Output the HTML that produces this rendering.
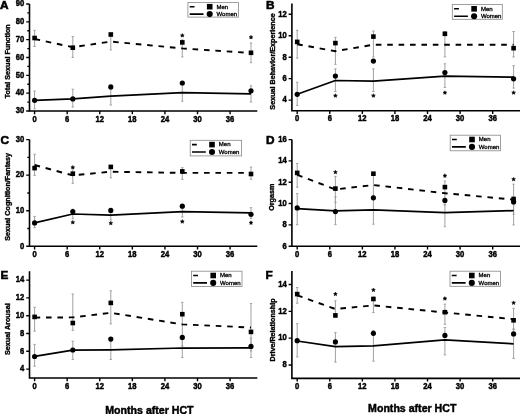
<!DOCTYPE html>
<html><head><meta charset="utf-8"><style>
html,body{margin:0;padding:0;background:#fff;}
body{width:520px;height:414px;overflow:hidden;}
svg{display:block;filter:blur(0.3px);}
text{font-family:"Liberation Sans", sans-serif;fill:#000;}
.t{font-size:8.5px;font-weight:bold;stroke:#000;stroke-width:0.45px;}
.yl{font-size:7.2px;font-weight:bold;stroke:#000;stroke-width:0.35px;}
.L{font-size:11.8px;font-weight:bold;stroke:#000;stroke-width:0.6px;}
.lg{font-size:6.0px;stroke:#000;stroke-width:0.3px;}
.ast{font-size:9px;font-weight:bold;}
.xt{font-size:10.6px;font-weight:bold;stroke:#000;stroke-width:0.45px;}
</style></head><body>
<svg width="520" height="414" viewBox="0 0 520 414">
<rect width="520" height="414" fill="#fff"/>
<path d="M29.5 4V111H257.3" fill="none" stroke="#000" stroke-width="1.6"/>
<path d="M26.2 111H29.5M26.2 93.17H29.5M26.2 75.33H29.5M26.2 57.5H29.5M26.2 39.67H29.5M26.2 21.83H29.5M26.2 4H29.5M27.3 102.08H29.5M27.3 84.25H29.5M27.3 66.42H29.5M27.3 48.58H29.5M27.3 30.75H29.5M27.3 12.92H29.5M34.6 111V114.2M67.18 111V114.2M99.76 111V114.2M132.34 111V114.2M164.92 111V114.2M197.5 111V114.2M230.08 111V114.2" fill="none" stroke="#000" stroke-width="1.4"/>
<text transform="translate(24.3 113.3) scale(0.9 1)" class="t" text-anchor="end">30</text>
<text transform="translate(24.3 95.47) scale(0.9 1)" class="t" text-anchor="end">40</text>
<text transform="translate(24.3 77.63) scale(0.9 1)" class="t" text-anchor="end">50</text>
<text transform="translate(24.3 59.8) scale(0.9 1)" class="t" text-anchor="end">60</text>
<text transform="translate(24.3 41.97) scale(0.9 1)" class="t" text-anchor="end">70</text>
<text transform="translate(24.3 24.13) scale(0.9 1)" class="t" text-anchor="end">80</text>
<text transform="translate(24.3 6.3) scale(0.9 1)" class="t" text-anchor="end">90</text>
<text transform="translate(34.6 121.5) scale(0.9 1)" class="t" text-anchor="middle">0</text>
<text transform="translate(67.18 121.5) scale(0.9 1)" class="t" text-anchor="middle">6</text>
<text transform="translate(99.76 121.5) scale(0.9 1)" class="t" text-anchor="middle">12</text>
<text transform="translate(132.34 121.5) scale(0.9 1)" class="t" text-anchor="middle">18</text>
<text transform="translate(164.92 121.5) scale(0.9 1)" class="t" text-anchor="middle">24</text>
<text transform="translate(197.5 121.5) scale(0.9 1)" class="t" text-anchor="middle">30</text>
<text transform="translate(230.08 121.5) scale(0.9 1)" class="t" text-anchor="middle">36</text>
<text class="yl" text-anchor="middle" transform="translate(9.9 61.3) rotate(-90)">Total Sexual Function</text>
<text x="0" y="8.7" class="L">A</text>
<path d="M34.6 30.4V46.5M33.4 30.4H35.8M33.4 46.5H35.8M72.8 36.6V57.4M71.6 36.6H74M71.6 57.4H74M110.8 35V49.9M109.6 35H112M109.6 49.9H112M182.3 39.9V56.9M181.1 39.9H183.5M181.1 56.9H183.5M251 43V62.7M249.8 43H252.2M249.8 62.7H252.2M34.6 91V108.8M33.4 91H35.8M33.4 108.8H35.8M72.8 89.2V107M71.6 89.2H74M71.6 107H74M110.8 89V105M109.6 89H112M109.6 105H112M182.3 84.2V101.2M181.1 84.2H183.5M181.1 101.2H183.5M251 85.8V102M249.8 85.8H252.2M249.8 102H252.2" fill="none" stroke="#a2a2a2" stroke-width="1"/>
<polyline points="34.6,39 72.8,47.2 110.8,41.6 182.3,48.4 251,53" fill="none" stroke="#000" stroke-width="1.9" stroke-dasharray="5.6 5.8"/>
<polyline points="34.6,100.3 72.8,98.9 110.8,96.2 182.3,92.7 251,93.8" fill="none" stroke="#000" stroke-width="1.75" stroke-linejoin="round"/>
<rect x="32.3" y="35.7" width="4.6" height="4.6" fill="#000"/>
<rect x="70.5" y="45.4" width="4.6" height="4.6" fill="#000"/>
<rect x="108.5" y="32.2" width="4.6" height="4.6" fill="#000"/>
<rect x="180" y="40.1" width="4.6" height="4.6" fill="#000"/>
<rect x="248.7" y="50.5" width="4.6" height="4.6" fill="#000"/>
<circle cx="34.6" cy="100.3" r="2.6" fill="#000"/>
<circle cx="72.8" cy="98.9" r="2.6" fill="#000"/>
<circle cx="110.8" cy="86.9" r="2.6" fill="#000"/>
<circle cx="182.3" cy="83" r="2.6" fill="#000"/>
<circle cx="251" cy="90.8" r="2.6" fill="#000"/>
<polygon points="182.30,33.50 182.86,34.73 184.20,34.88 183.20,35.79 183.48,37.12 182.30,36.45 181.12,37.12 181.40,35.79 180.40,34.88 181.74,34.73" fill="#000" stroke="#000" stroke-width="0.5" stroke-linejoin="round"/>
<polygon points="251.00,35.30 251.56,36.53 252.90,36.68 251.90,37.59 252.18,38.92 251.00,38.25 249.82,38.92 250.10,37.59 249.10,36.68 250.44,36.53" fill="#000" stroke="#000" stroke-width="0.5" stroke-linejoin="round"/>
<rect x="187.9" y="2.4" width="50.6" height="14.7" fill="#fff" stroke="#888" stroke-width="0.8"/>
<path d="M189.7 6.7H194.5M189.7 14.1H203.5" stroke="#000" stroke-width="1.6"/>
<rect x="206.9" y="3.9" width="5.6" height="5.6" fill="#000"/>
<circle cx="209.7" cy="14.1" r="3.05" fill="#000"/>
<text x="216.5" y="8.5" class="lg">Men</text>
<text x="216.5" y="15.8" class="lg">Women</text>
<path d="M291.9 3.6V110.8H520" fill="none" stroke="#000" stroke-width="1.6"/>
<path d="M288.6 100.08H291.9M288.6 78.64H291.9M288.6 57.2H291.9M288.6 35.76H291.9M288.6 14.32H291.9M297.2 110.8V114M329.78 110.8V114M362.36 110.8V114M394.94 110.8V114M427.52 110.8V114M460.1 110.8V114M492.68 110.8V114" fill="none" stroke="#000" stroke-width="1.4"/>
<text transform="translate(286.7 102.38) scale(0.9 1)" class="t" text-anchor="end">4</text>
<text transform="translate(286.7 80.94) scale(0.9 1)" class="t" text-anchor="end">6</text>
<text transform="translate(286.7 59.5) scale(0.9 1)" class="t" text-anchor="end">8</text>
<text transform="translate(286.7 38.06) scale(0.9 1)" class="t" text-anchor="end">10</text>
<text transform="translate(286.7 16.62) scale(0.9 1)" class="t" text-anchor="end">12</text>
<text transform="translate(297.2 121.3) scale(0.9 1)" class="t" text-anchor="middle">0</text>
<text transform="translate(329.78 121.3) scale(0.9 1)" class="t" text-anchor="middle">6</text>
<text transform="translate(362.36 121.3) scale(0.9 1)" class="t" text-anchor="middle">12</text>
<text transform="translate(394.94 121.3) scale(0.9 1)" class="t" text-anchor="middle">18</text>
<text transform="translate(427.52 121.3) scale(0.9 1)" class="t" text-anchor="middle">24</text>
<text transform="translate(460.1 121.3) scale(0.9 1)" class="t" text-anchor="middle">30</text>
<text transform="translate(492.68 121.3) scale(0.9 1)" class="t" text-anchor="middle">36</text>
<text class="yl" text-anchor="middle" transform="translate(274.6 61.5) rotate(-90)">Sexual Behavior/Experience</text>
<text x="266" y="8.6" class="L">B</text>
<path d="M297.2 30.4V58.1M296 30.4H298.4M296 58.1H298.4M335.4 37.3V64.3M334.2 37.3H336.6M334.2 64.3H336.6M373.4 31V57M372.2 31H374.6M372.2 57H374.6M444.9 31.5V56.9M443.7 31.5H446.1M443.7 56.9H446.1M513.6 31.5V57M512.4 31.5H514.8M512.4 57H514.8M297.2 82.3V105.4M296 82.3H298.4M296 105.4H298.4M335.4 68.9V91.5M334.2 68.9H336.6M334.2 91.5H336.6M373.4 68.9V91.5M372.2 68.9H374.6M372.2 91.5H374.6M444.9 63.8V87.4M443.7 63.8H446.1M443.7 87.4H446.1M513.6 65.7V88.1M512.4 65.7H514.8M512.4 88.1H514.8" fill="none" stroke="#a2a2a2" stroke-width="1"/>
<polyline points="297.2,44.2 335.4,51.2 373.4,44.7 444.9,44.7 513.6,44.7" fill="none" stroke="#000" stroke-width="1.9" stroke-dasharray="5.6 5.8"/>
<polyline points="297.2,94.3 335.4,80.5 373.4,81.2 444.9,76.1 513.6,77.2" fill="none" stroke="#000" stroke-width="1.75" stroke-linejoin="round"/>
<rect x="294.9" y="39.6" width="4.6" height="4.6" fill="#000"/>
<rect x="333.1" y="40.8" width="4.6" height="4.6" fill="#000"/>
<rect x="371.1" y="34.3" width="4.6" height="4.6" fill="#000"/>
<rect x="442.6" y="31.5" width="4.6" height="4.6" fill="#000"/>
<rect x="511.3" y="45.9" width="4.6" height="4.6" fill="#000"/>
<circle cx="297.2" cy="94.3" r="2.6" fill="#000"/>
<circle cx="335.4" cy="76.1" r="2.6" fill="#000"/>
<circle cx="373.4" cy="61.1" r="2.6" fill="#000"/>
<circle cx="444.9" cy="72.6" r="2.6" fill="#000"/>
<circle cx="513.6" cy="78.8" r="2.6" fill="#000"/>
<polygon points="335.40,93.70 335.96,94.93 337.30,95.08 336.30,95.99 336.58,97.32 335.40,96.65 334.22,97.32 334.50,95.99 333.50,95.08 334.84,94.93" fill="#000" stroke="#000" stroke-width="0.5" stroke-linejoin="round"/>
<polygon points="373.40,93.70 373.96,94.93 375.30,95.08 374.30,95.99 374.58,97.32 373.40,96.65 372.22,97.32 372.50,95.99 371.50,95.08 372.84,94.93" fill="#000" stroke="#000" stroke-width="0.5" stroke-linejoin="round"/>
<polygon points="444.90,90.70 445.46,91.93 446.80,92.08 445.80,92.99 446.08,94.32 444.90,93.65 443.72,94.32 444.00,92.99 443.00,92.08 444.34,91.93" fill="#000" stroke="#000" stroke-width="0.5" stroke-linejoin="round"/>
<polygon points="513.60,90.70 514.16,91.93 515.50,92.08 514.50,92.99 514.78,94.32 513.60,93.65 512.42,94.32 512.70,92.99 511.70,92.08 513.04,91.93" fill="#000" stroke="#000" stroke-width="0.5" stroke-linejoin="round"/>
<rect x="452.3" y="4.5" width="50" height="14.8" fill="#fff" stroke="#888" stroke-width="0.8"/>
<path d="M454.1 8.8H458.9M454.1 16.2H467.9" stroke="#000" stroke-width="1.6"/>
<rect x="471.3" y="6" width="5.6" height="5.6" fill="#000"/>
<circle cx="474.1" cy="16.2" r="3.05" fill="#000"/>
<text x="480.9" y="10.6" class="lg">Men</text>
<text x="480.9" y="17.9" class="lg">Women</text>
<path d="M29.5 139.6V246.3H257.3" fill="none" stroke="#000" stroke-width="1.6"/>
<path d="M26.2 246.3H29.5M26.2 210.73H29.5M26.2 175.17H29.5M26.2 139.6H29.5M27.3 228.52H29.5M27.3 192.95H29.5M27.3 157.38H29.5M34.6 246.3V249.5M67.18 246.3V249.5M99.76 246.3V249.5M132.34 246.3V249.5M164.92 246.3V249.5M197.5 246.3V249.5M230.08 246.3V249.5" fill="none" stroke="#000" stroke-width="1.4"/>
<text transform="translate(24.3 248.6) scale(0.9 1)" class="t" text-anchor="end">0</text>
<text transform="translate(24.3 213.03) scale(0.9 1)" class="t" text-anchor="end">10</text>
<text transform="translate(24.3 177.47) scale(0.9 1)" class="t" text-anchor="end">20</text>
<text transform="translate(24.3 141.9) scale(0.9 1)" class="t" text-anchor="end">30</text>
<text transform="translate(34.6 256.8) scale(0.9 1)" class="t" text-anchor="middle">0</text>
<text transform="translate(67.18 256.8) scale(0.9 1)" class="t" text-anchor="middle">6</text>
<text transform="translate(99.76 256.8) scale(0.9 1)" class="t" text-anchor="middle">12</text>
<text transform="translate(132.34 256.8) scale(0.9 1)" class="t" text-anchor="middle">18</text>
<text transform="translate(164.92 256.8) scale(0.9 1)" class="t" text-anchor="middle">24</text>
<text transform="translate(197.5 256.8) scale(0.9 1)" class="t" text-anchor="middle">30</text>
<text transform="translate(230.08 256.8) scale(0.9 1)" class="t" text-anchor="middle">36</text>
<text class="yl" text-anchor="middle" transform="translate(9.8 196.9) rotate(-90)">Sexual Cognition/Fantasy</text>
<text x="0.6" y="143.5" class="L">C</text>
<path d="M34.6 154.3V175.4M33.4 154.3H35.8M33.4 175.4H35.8M72.8 167.5V183.3M71.6 167.5H74M71.6 183.3H74M110.8 165.6V177.8M109.6 165.6H112M109.6 177.8H112M182.3 167.7V179.3M181.1 167.7H183.5M181.1 179.3H183.5M251 167.1V179.3M249.8 167.1H252.2M249.8 179.3H252.2M34.6 216.4V227.7M33.4 216.4H35.8M33.4 227.7H35.8M72.8 209.2V218.8M71.6 209.2H74M71.6 218.8H74M110.8 210.4V220M109.6 210.4H112M109.6 220H112M182.3 206.4V217M181.1 206.4H183.5M181.1 217H183.5M251 207.7V218.4M249.8 207.7H252.2M249.8 218.4H252.2" fill="none" stroke="#a2a2a2" stroke-width="1"/>
<polyline points="34.6,165 72.8,175.4 110.8,171.7 182.3,172.9 251,172.9" fill="none" stroke="#000" stroke-width="1.9" stroke-dasharray="5.6 5.8"/>
<polyline points="34.6,222.9 72.8,214 110.8,215.2 182.3,211.7 251,212.9" fill="none" stroke="#000" stroke-width="1.75" stroke-linejoin="round"/>
<rect x="32.3" y="165.8" width="4.6" height="4.6" fill="#000"/>
<rect x="70.5" y="171.4" width="4.6" height="4.6" fill="#000"/>
<rect x="108.5" y="164.6" width="4.6" height="4.6" fill="#000"/>
<rect x="180" y="169.1" width="4.6" height="4.6" fill="#000"/>
<rect x="248.7" y="171.7" width="4.6" height="4.6" fill="#000"/>
<circle cx="34.6" cy="222.9" r="2.6" fill="#000"/>
<circle cx="72.8" cy="211.6" r="2.6" fill="#000"/>
<circle cx="110.8" cy="210.4" r="2.6" fill="#000"/>
<circle cx="182.3" cy="206.2" r="2.6" fill="#000"/>
<circle cx="251" cy="214.3" r="2.6" fill="#000"/>
<polygon points="72.80,165.40 73.36,166.63 74.70,166.78 73.70,167.69 73.98,169.02 72.80,168.35 71.62,169.02 71.90,167.69 70.90,166.78 72.24,166.63" fill="#000" stroke="#000" stroke-width="0.5" stroke-linejoin="round"/>
<polygon points="72.80,220.40 73.36,221.63 74.70,221.78 73.70,222.69 73.98,224.02 72.80,223.35 71.62,224.02 71.90,222.69 70.90,221.78 72.24,221.63" fill="#000" stroke="#000" stroke-width="0.5" stroke-linejoin="round"/>
<polygon points="110.80,221.20 111.36,222.43 112.70,222.58 111.70,223.49 111.98,224.82 110.80,224.15 109.62,224.82 109.90,223.49 108.90,222.58 110.24,222.43" fill="#000" stroke="#000" stroke-width="0.5" stroke-linejoin="round"/>
<polygon points="182.30,219.60 182.86,220.83 184.20,220.98 183.20,221.89 183.48,223.22 182.30,222.55 181.12,223.22 181.40,221.89 180.40,220.98 181.74,220.83" fill="#000" stroke="#000" stroke-width="0.5" stroke-linejoin="round"/>
<polygon points="251.00,220.80 251.56,222.03 252.90,222.18 251.90,223.09 252.18,224.42 251.00,223.75 249.82,224.42 250.10,223.09 249.10,222.18 250.44,222.03" fill="#000" stroke="#000" stroke-width="0.5" stroke-linejoin="round"/>
<rect x="190.2" y="140.3" width="51.4" height="15.6" fill="#fff" stroke="#888" stroke-width="0.8"/>
<path d="M192 144.6H196.8M192 152H205.8" stroke="#000" stroke-width="1.6"/>
<rect x="209.2" y="141.8" width="5.6" height="5.6" fill="#000"/>
<circle cx="212" cy="152" r="3.05" fill="#000"/>
<text x="218.8" y="146.4" class="lg">Men</text>
<text x="218.8" y="153.7" class="lg">Women</text>
<path d="M291.9 139.6V246.2H520" fill="none" stroke="#000" stroke-width="1.6"/>
<path d="M288.6 246.2H291.9M288.6 224.88H291.9M288.6 203.56H291.9M288.6 182.24H291.9M288.6 160.92H291.9M288.6 139.6H291.9M297.2 246.2V249.4M329.78 246.2V249.4M362.36 246.2V249.4M394.94 246.2V249.4M427.52 246.2V249.4M460.1 246.2V249.4M492.68 246.2V249.4" fill="none" stroke="#000" stroke-width="1.4"/>
<text transform="translate(286.7 248.5) scale(0.9 1)" class="t" text-anchor="end">6</text>
<text transform="translate(286.7 227.18) scale(0.9 1)" class="t" text-anchor="end">8</text>
<text transform="translate(286.7 205.86) scale(0.9 1)" class="t" text-anchor="end">10</text>
<text transform="translate(286.7 184.54) scale(0.9 1)" class="t" text-anchor="end">12</text>
<text transform="translate(286.7 163.22) scale(0.9 1)" class="t" text-anchor="end">14</text>
<text transform="translate(286.7 141.9) scale(0.9 1)" class="t" text-anchor="end">16</text>
<text transform="translate(297.2 256.7) scale(0.9 1)" class="t" text-anchor="middle">0</text>
<text transform="translate(329.78 256.7) scale(0.9 1)" class="t" text-anchor="middle">6</text>
<text transform="translate(362.36 256.7) scale(0.9 1)" class="t" text-anchor="middle">12</text>
<text transform="translate(394.94 256.7) scale(0.9 1)" class="t" text-anchor="middle">18</text>
<text transform="translate(427.52 256.7) scale(0.9 1)" class="t" text-anchor="middle">24</text>
<text transform="translate(460.1 256.7) scale(0.9 1)" class="t" text-anchor="middle">30</text>
<text transform="translate(492.68 256.7) scale(0.9 1)" class="t" text-anchor="middle">36</text>
<text class="yl" text-anchor="middle" transform="translate(274.2 197.2) rotate(-90)">Orgasm</text>
<text x="266" y="143.7" class="L">D</text>
<path d="M297.2 163.5V187.2M296 163.5H298.4M296 187.2H298.4M335.4 176.4V202.4M334.2 176.4H336.6M334.2 202.4H336.6M373.4 173.7V197M372.2 173.7H374.6M372.2 197H374.6M444.9 181.1V205M443.7 181.1H446.1M443.7 205H446.1M513.6 184.2V214.3M512.4 184.2H514.8M512.4 214.3H514.8M297.2 193.6V224.7M296 193.6H298.4M296 224.7H298.4M335.4 196.9V224.7M334.2 196.9H336.6M334.2 224.7H336.6M373.4 196V224.2M372.2 196H374.6M372.2 224.2H374.6M444.9 204.3V226.7M443.7 204.3H446.1M443.7 226.7H446.1M513.6 197V224.9M512.4 197H514.8M512.4 224.9H514.8" fill="none" stroke="#a2a2a2" stroke-width="1"/>
<polyline points="297.2,174.9 335.4,189.4 373.4,185 444.9,193.2 513.6,199.6" fill="none" stroke="#000" stroke-width="1.9" stroke-dasharray="5.6 5.8"/>
<polyline points="297.2,208.7 335.4,210.8 373.4,209.9 444.9,212.6 513.6,210.6" fill="none" stroke="#000" stroke-width="1.75" stroke-linejoin="round"/>
<rect x="294.9" y="170.6" width="4.6" height="4.6" fill="#000"/>
<rect x="333.1" y="186.3" width="4.6" height="4.6" fill="#000"/>
<rect x="371.1" y="171.4" width="4.6" height="4.6" fill="#000"/>
<rect x="442.6" y="184.8" width="4.6" height="4.6" fill="#000"/>
<rect x="511.3" y="196.7" width="4.6" height="4.6" fill="#000"/>
<circle cx="297.2" cy="207.9" r="2.6" fill="#000"/>
<circle cx="335.4" cy="211.6" r="2.6" fill="#000"/>
<circle cx="373.4" cy="197.8" r="2.6" fill="#000"/>
<circle cx="444.9" cy="200.4" r="2.6" fill="#000"/>
<circle cx="513.6" cy="201.9" r="2.6" fill="#000"/>
<polygon points="335.40,170.20 335.96,171.43 337.30,171.58 336.30,172.49 336.58,173.82 335.40,173.15 334.22,173.82 334.50,172.49 333.50,171.58 334.84,171.43" fill="#000" stroke="#000" stroke-width="0.5" stroke-linejoin="round"/>
<polygon points="444.90,173.80 445.46,175.03 446.80,175.18 445.80,176.09 446.08,177.42 444.90,176.75 443.72,177.42 444.00,176.09 443.00,175.18 444.34,175.03" fill="#000" stroke="#000" stroke-width="0.5" stroke-linejoin="round"/>
<polygon points="513.60,177.30 514.16,178.53 515.50,178.68 514.50,179.59 514.78,180.92 513.60,180.25 512.42,180.92 512.70,179.59 511.70,178.68 513.04,178.53" fill="#000" stroke="#000" stroke-width="0.5" stroke-linejoin="round"/>
<rect x="450.2" y="135.2" width="50.2" height="15.6" fill="#fff" stroke="#888" stroke-width="0.8"/>
<path d="M452 139.5H456.8M452 146.9H465.8" stroke="#000" stroke-width="1.6"/>
<rect x="469.2" y="136.7" width="5.6" height="5.6" fill="#000"/>
<circle cx="472" cy="146.9" r="3.05" fill="#000"/>
<text x="478.8" y="141.3" class="lg">Men</text>
<text x="478.8" y="148.6" class="lg">Women</text>
<path d="M29.5 271.2V378H257.3" fill="none" stroke="#000" stroke-width="1.6"/>
<path d="M26.2 369.1H29.5M26.2 351.3H29.5M26.2 333.5H29.5M26.2 315.7H29.5M26.2 297.9H29.5M26.2 280.1H29.5M34.6 378V381.2M67.18 378V381.2M99.76 378V381.2M132.34 378V381.2M164.92 378V381.2M197.5 378V381.2M230.08 378V381.2" fill="none" stroke="#000" stroke-width="1.4"/>
<text transform="translate(24.3 371.4) scale(0.9 1)" class="t" text-anchor="end">4</text>
<text transform="translate(24.3 353.6) scale(0.9 1)" class="t" text-anchor="end">6</text>
<text transform="translate(24.3 335.8) scale(0.9 1)" class="t" text-anchor="end">8</text>
<text transform="translate(24.3 318) scale(0.9 1)" class="t" text-anchor="end">10</text>
<text transform="translate(24.3 300.2) scale(0.9 1)" class="t" text-anchor="end">12</text>
<text transform="translate(24.3 282.4) scale(0.9 1)" class="t" text-anchor="end">14</text>
<text transform="translate(34.6 388.5) scale(0.9 1)" class="t" text-anchor="middle">0</text>
<text transform="translate(67.18 388.5) scale(0.9 1)" class="t" text-anchor="middle">6</text>
<text transform="translate(99.76 388.5) scale(0.9 1)" class="t" text-anchor="middle">12</text>
<text transform="translate(132.34 388.5) scale(0.9 1)" class="t" text-anchor="middle">18</text>
<text transform="translate(164.92 388.5) scale(0.9 1)" class="t" text-anchor="middle">24</text>
<text transform="translate(197.5 388.5) scale(0.9 1)" class="t" text-anchor="middle">30</text>
<text transform="translate(230.08 388.5) scale(0.9 1)" class="t" text-anchor="middle">36</text>
<text class="yl" text-anchor="middle" transform="translate(10 329.1) rotate(-90)">Sexual Arousal</text>
<text x="0.6" y="278.9" class="L">E</text>
<path d="M34.6 307.3V331.2M33.4 307.3H35.8M33.4 331.2H35.8M72.8 294.1V330.3M71.6 294.1H74M71.6 330.3H74M110.8 290.8V323.9M109.6 290.8H112M109.6 323.9H112M182.3 302.3V346M181.1 302.3H183.5M181.1 346H183.5M251 303.6V351M249.8 303.6H252.2M249.8 351H252.2M34.6 344.4V366.2M33.4 344.4H35.8M33.4 366.2H35.8M72.8 341.2V359.4M71.6 341.2H74M71.6 359.4H74M110.8 341V359.4M109.6 341H112M109.6 359.4H112M182.3 338V357.4M181.1 338H183.5M181.1 357.4H183.5M251 338V357.4M249.8 338H252.2M249.8 357.4H252.2" fill="none" stroke="#a2a2a2" stroke-width="1"/>
<polyline points="34.6,317.6 72.8,317.4 110.8,312.8 182.3,324.4 251,327.5" fill="none" stroke="#000" stroke-width="1.9" stroke-dasharray="5.6 5.8"/>
<polyline points="34.6,356.3 72.8,350.2 110.8,349.8 182.3,348 251,347.8" fill="none" stroke="#000" stroke-width="1.75" stroke-linejoin="round"/>
<rect x="32.3" y="314.6" width="4.6" height="4.6" fill="#000"/>
<rect x="70.5" y="320.7" width="4.6" height="4.6" fill="#000"/>
<rect x="108.5" y="300.6" width="4.6" height="4.6" fill="#000"/>
<rect x="180" y="311.9" width="4.6" height="4.6" fill="#000"/>
<rect x="248.7" y="329.6" width="4.6" height="4.6" fill="#000"/>
<circle cx="34.6" cy="356.5" r="2.6" fill="#000"/>
<circle cx="72.8" cy="350" r="2.6" fill="#000"/>
<circle cx="110.8" cy="339.1" r="2.6" fill="#000"/>
<circle cx="182.3" cy="337.4" r="2.6" fill="#000"/>
<circle cx="251" cy="346.4" r="2.6" fill="#000"/>
<rect x="191.4" y="271.2" width="50.6" height="15.3" fill="#fff" stroke="#888" stroke-width="0.8"/>
<path d="M193.2 275.5H198M193.2 282.9H207" stroke="#000" stroke-width="1.6"/>
<rect x="210.4" y="272.7" width="5.6" height="5.6" fill="#000"/>
<circle cx="213.2" cy="282.9" r="3.05" fill="#000"/>
<text x="220" y="277.3" class="lg">Men</text>
<text x="220" y="284.6" class="lg">Women</text>
<path d="M291.9 271.1V378.4H520" fill="none" stroke="#000" stroke-width="1.6"/>
<path d="M288.6 364.99H291.9M288.6 338.16H291.9M288.6 311.34H291.9M288.6 284.51H291.9M297.2 378.4V381.6M329.78 378.4V381.6M362.36 378.4V381.6M394.94 378.4V381.6M427.52 378.4V381.6M460.1 378.4V381.6M492.68 378.4V381.6" fill="none" stroke="#000" stroke-width="1.4"/>
<text transform="translate(286.7 367.29) scale(0.9 1)" class="t" text-anchor="end">8</text>
<text transform="translate(286.7 340.46) scale(0.9 1)" class="t" text-anchor="end">10</text>
<text transform="translate(286.7 313.64) scale(0.9 1)" class="t" text-anchor="end">12</text>
<text transform="translate(286.7 286.81) scale(0.9 1)" class="t" text-anchor="end">14</text>
<text transform="translate(297.2 388.9) scale(0.9 1)" class="t" text-anchor="middle">0</text>
<text transform="translate(329.78 388.9) scale(0.9 1)" class="t" text-anchor="middle">6</text>
<text transform="translate(362.36 388.9) scale(0.9 1)" class="t" text-anchor="middle">12</text>
<text transform="translate(394.94 388.9) scale(0.9 1)" class="t" text-anchor="middle">18</text>
<text transform="translate(427.52 388.9) scale(0.9 1)" class="t" text-anchor="middle">24</text>
<text transform="translate(460.1 388.9) scale(0.9 1)" class="t" text-anchor="middle">30</text>
<text transform="translate(492.68 388.9) scale(0.9 1)" class="t" text-anchor="middle">36</text>
<text class="yl" text-anchor="middle" transform="translate(274.8 330) rotate(-90)">Drive/Relationship</text>
<text x="265.6" y="279.3" class="L">F</text>
<path d="M297.2 287.5V303.2M296 287.5H298.4M296 303.2H298.4M335.4 300.8V317.5M334.2 300.8H336.6M334.2 317.5H336.6M373.4 297V312.6M372.2 297H374.6M372.2 312.6H374.6M444.9 304.2V324.3M443.7 304.2H446.1M443.7 324.3H446.1M513.6 308.3V329.3M512.4 308.3H514.8M512.4 329.3H514.8M297.2 323.7V356.9M296 323.7H298.4M296 356.9H298.4M335.4 332.7V362.1M334.2 332.7H336.6M334.2 362.1H336.6M373.4 330.5V361.2M372.2 330.5H374.6M372.2 361.2H374.6M444.9 327.5V354.9M443.7 327.5H446.1M443.7 354.9H446.1M513.6 329V358.5M512.4 329H514.8M512.4 358.5H514.8" fill="none" stroke="#a2a2a2" stroke-width="1"/>
<polyline points="297.2,295.3 335.4,309 373.4,305.4 444.9,312.5 513.6,319.2" fill="none" stroke="#000" stroke-width="1.9" stroke-dasharray="5.6 5.8"/>
<polyline points="297.2,341 335.4,346.7 373.4,345.8 444.9,339.9 513.6,343.8" fill="none" stroke="#000" stroke-width="1.75" stroke-linejoin="round"/>
<rect x="294.9" y="291.8" width="4.6" height="4.6" fill="#000"/>
<rect x="333.1" y="313.1" width="4.6" height="4.6" fill="#000"/>
<rect x="371.1" y="296.7" width="4.6" height="4.6" fill="#000"/>
<rect x="442.6" y="309.9" width="4.6" height="4.6" fill="#000"/>
<rect x="511.3" y="318" width="4.6" height="4.6" fill="#000"/>
<circle cx="297.2" cy="340.7" r="2.6" fill="#000"/>
<circle cx="335.4" cy="341.9" r="2.6" fill="#000"/>
<circle cx="373.4" cy="333.3" r="2.6" fill="#000"/>
<circle cx="444.9" cy="335.4" r="2.6" fill="#000"/>
<circle cx="513.6" cy="333.9" r="2.6" fill="#000"/>
<polygon points="335.40,292.10 335.96,293.33 337.30,293.48 336.30,294.39 336.58,295.72 335.40,295.05 334.22,295.72 334.50,294.39 333.50,293.48 334.84,293.33" fill="#000" stroke="#000" stroke-width="0.5" stroke-linejoin="round"/>
<polygon points="373.40,288.00 373.96,289.23 375.30,289.38 374.30,290.29 374.58,291.62 373.40,290.95 372.22,291.62 372.50,290.29 371.50,289.38 372.84,289.23" fill="#000" stroke="#000" stroke-width="0.5" stroke-linejoin="round"/>
<polygon points="444.90,296.60 445.46,297.83 446.80,297.98 445.80,298.89 446.08,300.22 444.90,299.55 443.72,300.22 444.00,298.89 443.00,297.98 444.34,297.83" fill="#000" stroke="#000" stroke-width="0.5" stroke-linejoin="round"/>
<polygon points="513.60,300.90 514.16,302.13 515.50,302.28 514.50,303.19 514.78,304.52 513.60,303.85 512.42,304.52 512.70,303.19 511.70,302.28 513.04,302.13" fill="#000" stroke="#000" stroke-width="0.5" stroke-linejoin="round"/>
<rect x="450" y="271.2" width="50.5" height="15.1" fill="#fff" stroke="#888" stroke-width="0.8"/>
<path d="M451.8 275.5H456.6M451.8 282.9H465.6" stroke="#000" stroke-width="1.6"/>
<rect x="469" y="272.7" width="5.6" height="5.6" fill="#000"/>
<circle cx="471.8" cy="282.9" r="3.05" fill="#000"/>
<text x="478.6" y="277.3" class="lg">Men</text>
<text x="478.6" y="284.6" class="lg">Women</text>
<text x="105.3" y="413.8" class="xt">Months after HCT</text>
<text x="368.1" y="412.0" class="xt">Months after HCT</text>
</svg>
</body></html>
